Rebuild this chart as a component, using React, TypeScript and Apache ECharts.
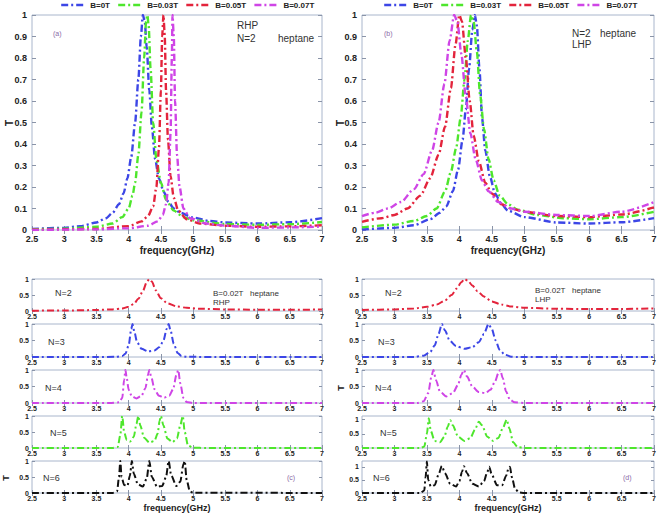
import React, { useEffect, useRef } from "react";
import * as echarts from "echarts";

type Pt = [number, number];

// ---------- legend / series names ----------
const legendNames = ["B=0T", "B=0.03T", "B=0.05T", "B=0.07T"];
const fieldColors = ["#3c46e6", "#4ee62c", "#e3243c", "#cf45e6"];

// ---------- tick labels ----------
const xTicks = [2.5, 3, 3.5, 4, 4.5, 5, 5.5, 6, 6.5, 7];
const topYTicks = [0, 0.1, 0.2, 0.3, 0.4, 0.5, 0.6, 0.7, 0.8, 0.9, 1];
const smallYTicks = [0, 0.5, 1];

// ---------- panel (a): RHP, N=2 ----------
const rhpB0: Pt[] = [[2.5,0.005],[3,0.01],[3.25,0.018],[3.5,0.035],[3.65,0.055],[3.75,0.08],[3.85,0.12],[3.92,0.17],[3.98,0.24],[4.04,0.34],[4.1,0.5],[4.15,0.7],[4.19,0.9],[4.22,1.0],[4.25,0.97],[4.28,0.85],[4.32,0.65],[4.36,0.48],[4.41,0.33],[4.47,0.24],[4.54,0.18],[4.62,0.13],[4.7,0.1],[4.8,0.08],[5.0,0.058],[5.25,0.042],[5.5,0.035],[6.0,0.03],[6.5,0.036],[7,0.055]];
const rhpB03: Pt[] = [[2.5,0.003],[3,0.006],[3.5,0.015],[3.75,0.03],[3.9,0.06],[4.0,0.1],[4.06,0.16],[4.1,0.22],[4.15,0.35],[4.2,0.55],[4.24,0.8],[4.27,0.97],[4.29,1.0],[4.31,0.95],[4.34,0.75],[4.38,0.5],[4.43,0.33],[4.5,0.22],[4.58,0.14],[4.7,0.09],[4.85,0.06],[5.0,0.045],[5.5,0.028],[6.0,0.024],[6.5,0.027],[7,0.037]];
const rhpB05: Pt[] = [[2.5,0.001],[3.5,0.005],[4.0,0.018],[4.2,0.04],[4.3,0.065],[4.38,0.11],[4.43,0.2],[4.47,0.38],[4.5,0.65],[4.52,0.9],[4.54,1.0],[4.56,0.9],[4.58,0.65],[4.61,0.42],[4.65,0.25],[4.7,0.15],[4.77,0.09],[4.9,0.05],[5.1,0.03],[5.5,0.02],[6,0.015],[6.5,0.017],[7,0.022]];
const rhpB07: Pt[] = [[2.5,0.0],[3.5,0.003],[4.0,0.008],[4.3,0.02],[4.45,0.04],[4.53,0.07],[4.58,0.12],[4.62,0.22],[4.65,0.45],[4.67,0.8],[4.68,1.0],[4.7,0.9],[4.72,0.6],[4.75,0.35],[4.79,0.2],[4.85,0.1],[4.95,0.055],[5.2,0.03],[5.5,0.02],[6,0.01],[6.5,0.012],[7,0.016]];

// ---------- panel (b): LHP, N=2 ----------
const lhpB0: Pt[] = [[2.5,0.002],[3,0.01],[3.3,0.022],[3.55,0.05],[3.7,0.08],[3.8,0.11],[3.9,0.18],[3.98,0.28],[4.05,0.42],[4.1,0.56],[4.15,0.75],[4.2,0.93],[4.24,1.0],[4.27,0.95],[4.31,0.75],[4.35,0.52],[4.4,0.37],[4.47,0.25],[4.55,0.17],[4.65,0.12],[4.75,0.09],[5.0,0.06],[5.5,0.035],[6,0.03],[6.5,0.036],[7,0.055]];
const lhpB03: Pt[] = [[2.5,0.012],[3,0.025],[3.3,0.042],[3.5,0.065],[3.65,0.1],[3.78,0.18],[3.87,0.27],[3.95,0.38],[4.02,0.52],[4.08,0.7],[4.13,0.88],[4.18,1.0],[4.22,0.97],[4.27,0.83],[4.32,0.63],[4.38,0.47],[4.45,0.33],[4.53,0.23],[4.62,0.16],[4.75,0.12],[4.9,0.095],[5.2,0.07],[5.6,0.055],[6,0.05],[6.5,0.06],[7,0.085]];
const lhpB05: Pt[] = [[2.5,0.038],[2.8,0.055],[3.0,0.07],[3.2,0.1],[3.4,0.16],[3.55,0.24],[3.68,0.35],[3.78,0.48],[3.87,0.66],[3.94,0.86],[4.0,1.0],[4.04,0.97],[4.1,0.8],[4.16,0.6],[4.22,0.44],[4.3,0.32],[4.4,0.22],[4.5,0.17],[4.65,0.12],[4.8,0.1],[5.0,0.085],[5.5,0.065],[6,0.06],[6.5,0.072],[7,0.105]];
const lhpB07: Pt[] = [[2.5,0.065],[2.7,0.08],[2.9,0.1],[3.1,0.13],[3.3,0.19],[3.45,0.26],[3.58,0.37],[3.68,0.5],[3.77,0.68],[3.85,0.88],[3.92,1.0],[3.97,0.97],[4.03,0.82],[4.1,0.62],[4.17,0.45],[4.25,0.33],[4.35,0.23],[4.45,0.18],[4.6,0.13],[4.8,0.1],[5.0,0.085],[5.5,0.07],[6,0.065],[6.5,0.085],[7,0.13]];

// ---------- panel (c): RHP, B=0.02T, N=2..6 ----------
const rhpN2: Pt[] = [[2.5,0.01],[3,0.015],[3.5,0.03],[3.75,0.05],[3.9,0.08],[4.0,0.13],[4.08,0.22],[4.15,0.38],[4.22,0.62],[4.28,0.9],[4.32,1.0],[4.36,0.92],[4.42,0.65],[4.5,0.4],[4.6,0.24],[4.75,0.14],[4.9,0.1],[5.1,0.07],[5.5,0.05],[6,0.04],[6.5,0.04],[7,0.045]];
const rhpN3: Pt[] = [[2.5,0],[3.5,0],[3.8,0.005],[3.9,0.03],[3.95,0.1],[4.0,0.35],[4.04,0.85],[4.06,1.0],[4.09,0.75],[4.13,0.45],[4.2,0.25],[4.3,0.17],[4.4,0.2],[4.48,0.3],[4.54,0.5],[4.59,0.85],[4.62,1.0],[4.65,0.8],[4.7,0.4],[4.76,0.12],[4.82,0.03],[4.9,0.005],[5.5,0],[7,0]];
const rhpN4: Pt[] = [[2.5,0],[3.7,0],[3.85,0.02],[3.9,0.15],[3.93,0.7],[3.95,1.0],[3.97,0.75],[4.0,0.4],[4.05,0.2],[4.12,0.14],[4.2,0.22],[4.26,0.45],[4.3,0.85],[4.32,1.0],[4.35,0.8],[4.4,0.42],[4.47,0.22],[4.55,0.16],[4.63,0.22],[4.69,0.42],[4.74,0.85],[4.77,1.0],[4.8,0.6],[4.85,0.15],[4.9,0.03],[5.0,0],[7,0]];
const rhpN5: Pt[] = [[2.5,0],[3.75,0],[3.83,0.03],[3.87,0.4],[3.9,1.0],[3.93,0.5],[3.97,0.25],[4.02,0.2],[4.08,0.35],[4.12,0.75],[4.15,1.0],[4.18,0.7],[4.24,0.32],[4.32,0.17],[4.4,0.22],[4.45,0.45],[4.48,0.85],[4.5,1.0],[4.54,0.7],[4.6,0.3],[4.68,0.18],[4.75,0.3],[4.8,0.7],[4.84,1.0],[4.87,0.5],[4.92,0.08],[5.0,0.01],[5.2,0],[7,0]];
const rhpN6: Pt[] = [[2.5,0],[3.75,0],[3.82,0.05],[3.85,0.5],[3.87,1.0],[3.89,0.5],[3.93,0.25],[3.98,0.22],[4.02,0.55],[4.05,1.0],[4.08,0.6],[4.14,0.28],[4.22,0.2],[4.28,0.45],[4.32,1.0],[4.36,0.5],[4.44,0.2],[4.52,0.22],[4.58,0.5],[4.62,1.0],[4.66,0.55],[4.74,0.22],[4.8,0.35],[4.85,0.9],[4.87,1.0],[4.9,0.4],[4.95,0.05],[5.0,0.01],[7,0]];

// ---------- panel (d): LHP, B=0.02T, N=2..6 ----------
const lhpN2: Pt[] = [[2.5,0.03],[3,0.05],[3.3,0.08],[3.5,0.13],[3.65,0.2],[3.78,0.33],[3.88,0.5],[3.96,0.7],[4.03,0.9],[4.08,1.0],[4.13,0.95],[4.2,0.8],[4.28,0.62],[4.38,0.45],[4.5,0.3],[4.65,0.2],[4.8,0.14],[5.0,0.1],[5.5,0.07],[6,0.06],[6.5,0.065],[7,0.08]];
const lhpN3: Pt[] = [[2.5,0],[3.3,0],[3.45,0.04],[3.55,0.15],[3.62,0.35],[3.68,0.7],[3.73,1.0],[3.78,0.8],[3.85,0.5],[3.95,0.33],[4.08,0.25],[4.2,0.3],[4.3,0.45],[4.38,0.7],[4.45,1.0],[4.5,0.85],[4.56,0.5],[4.62,0.22],[4.7,0.07],[4.8,0.01],[4.9,0],[7,0]];
const lhpN4: Pt[] = [[2.5,0],[3.35,0],[3.45,0.05],[3.52,0.3],[3.57,0.8],[3.6,1.0],[3.64,0.7],[3.7,0.35],[3.8,0.2],[3.9,0.3],[3.98,0.55],[4.03,0.85],[4.07,1.0],[4.12,0.8],[4.2,0.5],[4.3,0.33],[4.4,0.3],[4.48,0.4],[4.55,0.65],[4.6,0.9],[4.63,1.0],[4.67,0.75],[4.72,0.35],[4.78,0.1],[4.85,0.02],[5.0,0],[7,0]];
const lhpN5: Pt[] = [[2.5,0],[3.4,0],[3.46,0.05],[3.5,0.5],[3.53,1.05],[3.56,0.6],[3.62,0.25],[3.7,0.2],[3.77,0.4],[3.82,0.75],[3.86,0.98],[3.9,0.8],[3.98,0.4],[4.08,0.25],[4.17,0.35],[4.24,0.65],[4.3,0.93],[4.35,0.8],[4.43,0.4],[4.52,0.25],[4.6,0.35],[4.67,0.7],[4.73,1.0],[4.77,0.7],[4.83,0.2],[4.9,0.03],[5.0,0],[7,0]];
const lhpN6: Pt[] = [[2.5,0],[3.4,0],[3.46,0.1],[3.48,0.6],[3.5,1.2],[3.52,0.5],[3.56,0.25],[3.62,0.3],[3.68,0.7],[3.73,1.03],[3.78,0.75],[3.86,0.35],[3.95,0.25],[4.0,0.45],[4.04,0.8],[4.07,1.02],[4.12,0.75],[4.2,0.35],[4.3,0.25],[4.38,0.45],[4.43,0.8],[4.46,1.0],[4.5,0.7],[4.58,0.3],[4.66,0.3],[4.72,0.65],[4.76,0.95],[4.78,1.0],[4.81,0.6],[4.86,0.15],[4.92,0.02],[5.0,0],[7,0]];

const subLabels = ["N=2", "N=3", "N=4", "N=5", "N=6"];
const subColors = ["#e3243c", "#3c46e6", "#cf45e6", "#4ee62c", "#111111"];
const rhpStack = [rhpN2, rhpN3, rhpN4, rhpN5, rhpN6];
const lhpStack = [lhpN2, lhpN3, lhpN4, lhpN5, lhpN6];
const lhpStackMax = [1, 1, 1, 1.13, 1.22];

const FONT = "'Liberation Sans', Arial, sans-serif";
const FRAME = "#a9b6cc";
const TICKC = "#8a94a8";
const DASH = [7, 3, 2, 3];

export default function App() {
  const ref = useRef<HTMLDivElement>(null);
  useEffect(() => {
    const chart = echarts.init(ref.current!, null, { renderer: "svg" });

    const grids: any[] = [];
    const xAxes: any[] = [];
    const yAxes: any[] = [];
    const series: any[] = [];

    const addPanel = (left: number, top: number, width: number, height: number, big: boolean, yMax: number) => {
      const idx = grids.length;
      grids.push({ left, top, width, height, show: true, borderColor: FRAME, borderWidth: 1, backgroundColor: "#fff", outerBoundsMode: "none", containLabel: false });
      const tickLen = big ? 4 : 3;
      const xBase = {
        gridIndex: idx, type: "value", min: xTicks[0], max: xTicks[xTicks.length - 1], interval: 0.5,
        axisLine: { show: false }, splitLine: { show: false },
        axisTick: { show: true, inside: true, length: tickLen, lineStyle: { color: TICKC } },
      };
      xAxes.push({
        ...xBase, position: "bottom",
        axisLabel: { fontSize: big ? 9 : 7, fontWeight: "bold", fontFamily: FONT, color: "#222", margin: big ? 4 : 2,
          formatter: (v: number) => (xTicks.some((t) => Math.abs(t - v) < 1e-6) ? String(v) : "") },
      });
      xAxes.push({ ...xBase, position: "top", axisLabel: { show: false } });
      const yt = big ? topYTicks : smallYTicks;
      const yBase = {
        gridIndex: idx, type: "value", min: 0, max: yMax, interval: big ? 0.1 : 0.5,
        axisLine: { show: false }, splitLine: { show: false },
        axisTick: { show: true, inside: true, length: tickLen, lineStyle: { color: TICKC } },
      };
      yAxes.push({
        ...yBase, position: "left",
        axisLabel: { fontSize: big ? 9 : 7, fontWeight: "bold", fontFamily: FONT, color: "#222", margin: big ? 5 : 3,
          showMaxLabel: yMax <= 1,
          formatter: (v: number) => { const t = yt.find((s) => Math.abs(s - v) < 1e-6); return t === undefined ? "" : String(t); } },
      });
      yAxes.push({ ...yBase, position: "right", axisLabel: { show: false } });
      return { x: xAxes.length - 2, y: yAxes.length - 2 };
    };

    const addLine = (ax: { x: number; y: number }, name: string, data: Pt[], color: string, width: number) => {
      series.push({
        type: "line", name, xAxisIndex: ax.x, yAxisIndex: ax.y, data, color,
        symbol: "none", showSymbol: false, smooth: 0.25, smoothMonotone: "x", clip: true,
        lineStyle: { color, width, type: DASH },
      });
    };

    const a = addPanel(32, 15, 290, 215, true, 1);
    [rhpB0, rhpB03, rhpB05, rhpB07].forEach((d, i) => addLine(a, legendNames[i], d, fieldColors[i], 2.4));
    const b = addPanel(362, 15, 292, 215, true, 1);
    [lhpB0, lhpB03, lhpB05, lhpB07].forEach((d, i) => addLine(b, legendNames[i], d, fieldColors[i], 2.4));

    const subTops = [279, 324, 370, 416, 461];
    const subHeights = [32, 33, 33, 32, 32];
    subTops.forEach((t, i) => {
      const c = addPanel(32, t, 290, subHeights[i], false, 1);
      addLine(c, "RHP " + subLabels[i], rhpStack[i], subColors[i], 2);
    });
    subTops.forEach((t, i) => {
      const d = addPanel(362, t, 292, subHeights[i], false, lhpStackMax[i]);
      addLine(d, "LHP " + subLabels[i], lhpStack[i], subColors[i], 2);
    });

    const txt = (x: number, y: number, text: string, size: number, opts: any = {}) => ({
      type: "text", x, y, silent: true,
      style: { text, fontSize: size, fontFamily: FONT, fill: "#333", fontWeight: "normal", textVerticalAlign: "middle", ...opts },
    });
    const rot = (x: number, y: number, text: string, size: number) => ({
      type: "text", x, y, rotation: Math.PI / 2, silent: true,
      style: { text, fontSize: size, fontFamily: FONT, fill: "#222", fontWeight: "bold", textAlign: "center", textVerticalAlign: "middle" },
    });

    const graphics: any[] = [
      // panel (a)
      txt(53, 33, "(a)", 7, { fill: "#8a6aa6" }),
      txt(237, 25, "RHP", 10),
      txt(237, 38, "N=2", 10),
      txt(278, 38, "heptane", 10),
      rot(9, 123, "T", 10),
      txt(177, 250, "frequency(GHz)", 10, { fontWeight: "bold", fill: "#222", textAlign: "center" }),
      // panel (b)
      txt(384, 33, "(b)", 7, { fill: "#8a6aa6" }),
      txt(572, 33, "N=2", 10),
      txt(600, 33, "heptane", 10),
      txt(572, 44, "LHP", 10),
      rot(340, 123, "T", 10),
      txt(508, 250, "frequency(GHz)", 10, { fontWeight: "bold", fill: "#222", textAlign: "center" }),
      // panel (c)
      txt(213, 293, "B=0.02T   heptane", 8),
      txt(213, 302, "RHP", 8),
      txt(287, 477, "(c)", 7, { fill: "#8a6aa6" }),
      rot(6, 478, "T", 9),
      txt(177, 508, "frequency(GHz)", 9, { fontWeight: "bold", fill: "#222", textAlign: "center" }),
      // panel (d)
      txt(535, 290, "B=0.02T   heptane", 8),
      txt(535, 299, "LHP", 8),
      txt(623, 477, "(d)", 7, { fill: "#8a6aa6" }),
      rot(341, 388, "T", 9),
      txt(508, 508, "frequency(GHz)", 9, { fontWeight: "bold", fill: "#222", textAlign: "center" }),
    ];
    const nLeftC = [55, 48, 45, 50, 43];
    const nY = [293, 342, 388, 433, 478];
    subLabels.forEach((l, i) => {
      graphics.push(txt(nLeftC[i], nY[i], l, 9));
      graphics.push(txt(nLeftC[i] + 330, nY[i], l, 9));
    });

    const legendBase = {
      data: legendNames, top: 1, itemWidth: 25, itemHeight: 10, itemGap: 7, width: 272,
      itemStyle: { opacity: 0, borderWidth: 0 },
      lineStyle: { width: 2.4, type: DASH },
      textStyle: { fontSize: 8, fontWeight: "bold", fontFamily: FONT, color: "#222", padding: [0, 0, 0, -1] },
      padding: 0,
    };

    chart.setOption({
      animation: false,
      backgroundColor: "#fff",
      legend: [
        { ...legendBase, left: 60 },
        { ...legendBase, left: 383 },
      ],
      grid: grids,
      xAxis: xAxes,
      yAxis: yAxes,
      series,
      graphic: graphics,
    });
    return () => chart.dispose();
  }, []);
  return <div ref={ref} style={{ position: "absolute", left: 0, top: 0, width: 659, height: 515 }} />;
}
